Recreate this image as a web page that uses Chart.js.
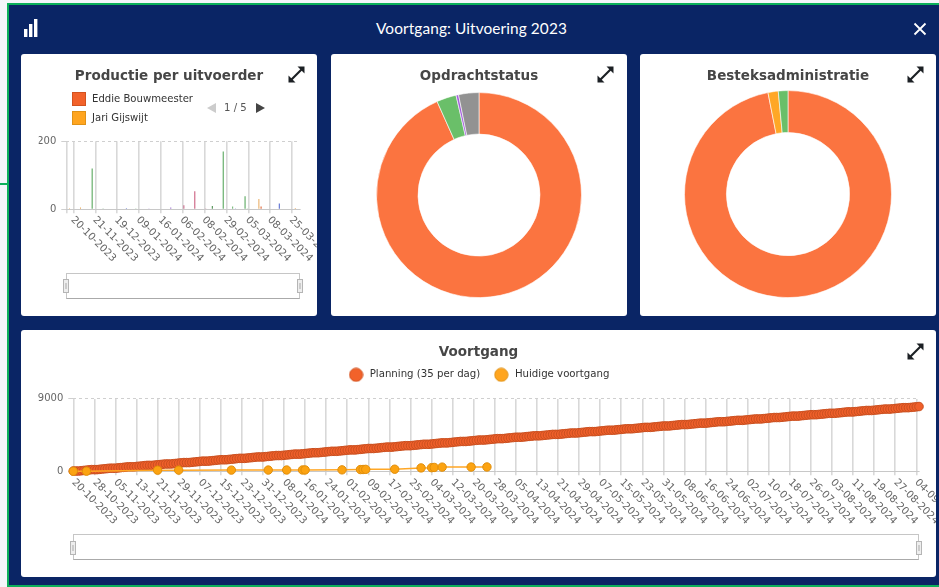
<!DOCTYPE html>
<html><head><meta charset="utf-8">
<script src="https://cdn.jsdelivr.net/npm/chart.js@4"></script>
<style>
html,body{margin:0;padding:0;background:#f4f6fa;overflow:hidden}
body{width:939px;height:587px;position:relative;font-family:"DejaVu Sans",sans-serif}
.abs{position:absolute}
.frame{left:7px;top:3px;width:940px;height:584px;background:#0a2565;border:2px solid #0bb05a;border-right:none;box-sizing:border-box}
.card{position:absolute;background:#fff;border-radius:3px;overflow:hidden}
.card canvas{position:absolute;left:0;top:0}
.head{left:376px;top:19px;font:15.4px Lato,"Open Sans",sans-serif;color:#fff;white-space:nowrap;letter-spacing:.1px}
.slider{position:absolute;border:1px solid #c6c6c6;border-bottom-color:#aaa;box-sizing:border-box;background:#fff}
.handle{position:absolute;width:6px;height:14px;background:#eee;border:1px solid #b5b5b5;box-sizing:border-box}
.handle:after{content:"";position:absolute;left:1px;top:3px;width:2px;height:6px;background:#ccc}
.lg{position:absolute;font-size:10.1px;color:#333;white-space:nowrap;line-height:14px}
.sw{position:absolute;width:14px;height:14px;box-sizing:border-box;border:1px solid}
</style></head><body>
<div class="abs" style="left:0;top:183px;width:8px;height:1.5px;background:#0bb05a"></div>
<div class="abs frame"></div>
<svg class="abs" style="left:24px;top:19px" width="14" height="19"><rect x="0" y="10" width="3.4" height="8" fill="#fff"/><rect x="5" y="5" width="3.4" height="13" fill="#fff"/><rect x="10" y="0" width="3.4" height="18" fill="#fff"/></svg>
<div class="abs head">Voortgang: Uitvoering 2023</div>
<svg class="abs" style="left:913px;top:22px" width="14" height="14"><path d="M1.5 1.5L12.5 12.5M12.5 1.5L1.5 12.5" stroke="#fff" stroke-width="1.8"/></svg>

<div class="card" id="c1" style="left:21px;top:54px;width:296px;height:262px"><canvas id="productie" width="296" height="262"></canvas></div>
<div class="card" id="c2" style="left:331px;top:54px;width:296px;height:262px"><canvas id="opdracht" width="296" height="262"></canvas></div>
<div class="card" id="c3" style="left:640px;top:54px;width:296px;height:262px"><canvas id="bestek" width="296" height="262"></canvas></div>
<div class="card" id="c4" style="left:21px;top:330px;width:915px;height:247px"><canvas id="voortgang" width="915" height="247"></canvas></div>

<script>
// ---------- data ----------
const _ = null;
const productieTicks = ['20-10-2023','21-11-2023','19-12-2023','09-01-2024','16-01-2024','06-02-2024','08-02-2024','29-02-2024','05-03-2024','08-03-2024','25-03-2024'];
const productieNamen = ['Eddie Bouwmeester','Jari Gijswijt'];
//                 0 1 2 3   4 5 6 7 8 9 10 11 12 13 14 15 16 17 18 19 20 21 22 23 24 25 26 27 28 29 30 31
const serieA = [_,_,_,_,_,1,_,_,_,_,_,_,_,_,_,_,_,_,_,_,10,_,_,_,_,_,_,_,_,_,_,_];
const serieB = [_,_,_,_,_,_,_,_,_,_,_,_,_,_,_,_,12,_,_,2,_,_,_,_,_,_,_,_,_,_,_,_];
const serieC = [_,_,_,_,_,_,_,_,3,_,_,_,_,_,_,_,_,_,_,_,_,_,_,2,_,_,_,_,_,17,_,_];
const serieD = [_,_,_,_,_,_,_,_,_,_,_,2,_,_,5,_,_,_,_,_,_,_,_,_,_,_,_,_,_,_,_,_];
const jari   = [3,_,_,_,_,_,_,_,_,_,_,_,_,_,_,_,_,_,_,_,_,_,_,_,_,_,30,_,_,_,_,4];
const serieF = [_,_,_,120,_,_,_,_,_,2,_,_,_,_,_,_,_,_,_,_,_,170,_,_,38,_,_,_,_,_,_,_];
const serieG = [_,_,_,_,_,_,_,_,_,_,_,_,_,_,_,_,_,53,_,_,_,_,_,_,_,_,_,_,_,_,_,_];
const eddie  = [_,_,_,_,_,_,_,_,_,_,_,_,_,_,_,_,_,_,_,_,_,_,_,_,_,_,8,_,_,_,_,_];
const serieI = [_,_,_,_,_,_,_,_,_,_,_,_,_,_,_,_,_,_,_,_,_,_,8,_,2,_,_,_,_,_,_,_];
const serieJ = [_,5,_,_,_,_,_,_,_,_,_,_,_,_,_,_,_,_,_,_,_,_,_,_,_,_,_,_,_,_,_,_];

const opdrachtLabels = ['Uitgevoerd','In uitvoering','Gepland','Overig'];
const opdrachtWaarden = [93.3,3.1,0.4,3.2];
const bestekLabels = ['Afgehandeld','In behandeling','Gereed'];
const bestekWaarden = [96.9,1.6,1.5];

const voortgangTicks = ['20-10-2023','28-10-2023','05-11-2023','13-11-2023','21-11-2023','29-11-2023','07-12-2023','15-12-2023','23-12-2023','31-12-2023','08-01-2024','16-01-2024','24-01-2024','01-02-2024','09-02-2024','17-02-2024','25-02-2024','04-03-2024','12-03-2024','20-03-2024','28-03-2024','05-04-2024','13-04-2024','21-04-2024','29-04-2024','07-05-2024','15-05-2024','23-05-2024','31-05-2024','08-06-2024','16-06-2024','24-06-2024','02-07-2024','10-07-2024','18-07-2024','26-07-2024','03-08-2024','11-08-2024','19-08-2024','27-08-2024','04-09-2024'];
const planning = [
35,35,35,70,105,140,175,
210,210,210,245,280,315,350,
385,385,385,420,455,490,525,
560,560,560,595,630,665,700,
735,735,735,770,805,840,875,
910,910,910,945,980,1015,1050,
1085,1085,1085,1120,1155,1190,1225,
1260,1260,1260,1295,1330,1365,1400,
1435,1435,1435,1470,1505,1540,1575,
1610,1610,1610,1645,1680,1715,1750,
1785,1785,1785,1820,1855,1890,1925,
1960,1960,1960,1995,2030,2065,2100,
2135,2135,2135,2170,2205,2240,2275,
2310,2310,2310,2345,2380,2415,2450,
2485,2485,2485,2520,2555,2590,2625,
2660,2660,2660,2695,2730,2765,2800,
2835,2835,2835,2870,2905,2940,2975,
3010,3010,3010,3045,3080,3115,3150,
3185,3185,3185,3220,3255,3290,3325,
3360,3360,3360,3395,3430,3465,3500,
3535,3535,3535,3570,3605,3640,3675,
3710,3710,3710,3745,3780,3815,3850,
3885,3885,3885,3920,3955,3990,4025,
4060,4060,4060,4095,4130,4165,4200,
4235,4235,4235,4270,4305,4340,4375,
4410,4410,4410,4445,4480,4515,4550,
4585,4585,4585,4620,4655,4690,4725,
4760,4760,4760,4795,4830,4865,4900,
4935,4935,4935,4970,5005,5040,5075,
5110,5110,5110,5145,5180,5215,5250,
5285,5285,5285,5320,5355,5390,5425,
5460,5460,5460,5495,5530,5565,5600,
5635,5635,5635,5670,5705,5740,5775,
5810,5810,5810,5845,5880,5915,5950,
5985,5985,5985,6020,6055,6090,6125,
6160,6160,6160,6195,6230,6265,6300,
6335,6335,6335,6370,6405,6440,6475,
6510,6510,6510,6545,6580,6615,6650,
6685,6685,6685,6720,6755,6790,6825,
6860,6860,6860,6895,6930,6965,7000,
7035,7035,7035,7070,7105,7140,7175,
7210,7210,7210,7245,7280,7315,7350,
7385,7385,7385,7420,7455,7490,7525,
7560,7560,7560,7595,7630,7665,7700,
7735,7735,7735,7770,7805,7840,7875,
7910,7910,7910,7945,7980,8015,8050];
const voortgangDatums = ['20-10-2023','25-10-2023','21-11-2023','29-11-2023','19-12-2023','02-01-2024','09-01-2024','15-01-2024','16-01-2024','30-01-2024','06-02-2024','07-02-2024','08-02-2024','19-02-2024','29-02-2024','04-03-2024','05-03-2024','08-03-2024','19-03-2024','25-03-2024'];
const voortgangWaarden = [10,15,140,145,150,155,160,165,170,180,215,225,240,260,420,450,480,520,530,540];

// ---------- helpers ----------
const FONT = '"DejaVu Sans", sans-serif';
Chart.defaults.font.family = FONT;
Chart.defaults.font.size = 10;
Chart.defaults.color = '#666';
Chart.defaults.animation = false;
Chart.defaults.responsive = false;

const titel = (text, top, bottom) => ({display:true,text,color:'#464646',font:{size:13.5,weight:'bold',family:FONT},padding:{top,bottom}});

// diagonal (descending to the right) tick labels
const diagonaal = (labels, step, dx, dy) => ({
  id:'diagonaal',
  afterDraw(chart){
    const {ctx, scales:{x}, chartArea} = chart;
    ctx.save();
    ctx.font = '10.2px '+FONT;
    ctx.fillStyle = '#666';
    ctx.textAlign = 'left';
    ctx.textBaseline = 'middle';
    labels.forEach((t,i)=>{
      ctx.save();
      ctx.translate(x.getPixelForTick(i*step)+dx, chartArea.bottom+dy);
      ctx.rotate(Math.PI/4);
      ctx.fillText(t,0,0);
      ctx.restore();
    });
    ctx.restore();
  }
});

// ---------- Productie per uitvoerder ----------
const maanden = Array.from({length:32},(_,i)=> i%3===0 ? productieTicks[i/3] : '·'.repeat(i+1));
const staaf = (label,data,color)=>({label,data,backgroundColor:color,categoryPercentage:1,barPercentage:1.3});
new Chart(document.getElementById('productie'),{
  type:'bar',
  data:{labels:maanden,datasets:[
    staaf('Uitvoerder 3',serieA,'#2e7d32'),
    staaf('Uitvoerder 4',serieB,'#c2557a'),
    staaf('Uitvoerder 5',serieC,'#3d55c9'),
    staaf('Uitvoerder 6',serieD,'#8e5bc9'),
    staaf(productieNamen[1],jari,'#e8a552'),
    staaf('Uitvoerder 7',serieF,'#3f9a45'),
    staaf('Uitvoerder 8',serieG,'#c2456b'),
    staaf(productieNamen[0],eddie,'#d9480f'),
    staaf('Uitvoerder 9',serieI,'#5fae63'),
    staaf('Uitvoerder 10',serieJ,'#e8a552')
  ]},
  options:{
    layout:{padding:{left:17.7,right:17.7}},
    plugins:{legend:{display:false},tooltip:{enabled:false},title:titel('Productie per uitvoerder',14,57)},
    scales:{
      x:{offset:true,afterFit:s=>{s.height=106.7},
         ticks:{display:false,autoSkip:false},
         border:{color:'#c8c8c8'},
         grid:{offset:true,lineWidth:1.6,tickLength:4,
               color:c=>(c.index===0||c.index%3===1)?'#d8d8d8':'rgba(0,0,0,0)'}},
      y:{min:0,max:200,afterFit:s=>{s.width=27.6},
         ticks:{stepSize:200,padding:5,font:{size:10},callback:v=>String(v)},
         border:{display:false,dash:[3,3]},
         grid:{color:'#cfcfcf',tickLength:5}}
    }
  },
  plugins:[diagonaal(productieTicks,3,2.5,9)]
});

// ---------- Doughnuts ----------
const donut = (id,title,labels,data,colors,radius,top,bottom)=>new Chart(document.getElementById(id),{
  type:'doughnut',
  data:{labels,datasets:[{data,backgroundColor:colors,borderColor:'#fff',borderWidth:.6,radius,cutout:'59.5%'}]},
  options:{
    layout:{padding:{bottom}},
    plugins:{legend:{display:false},tooltip:{enabled:false},title:titel(title,14,top)}
  }
});
donut('opdracht','Opdrachtstatus',opdrachtLabels,opdrachtWaarden,['#fb7440','#6abf69','#a45fdc','#929292'],102.5,4,14);
donut('bestek','Besteksadministratie',bestekLabels,bestekWaarden,['#fb7440','#ffa726','#6abf69'],103.5,2,14);

// ---------- Voortgang ----------
const dagen = planning.map((_,i)=>{
  const d = new Date(Date.UTC(2023,9,20+i));
  return String(d.getUTCDate()).padStart(2,'0')+'-'+String(d.getUTCMonth()+1).padStart(2,'0')+'-'+d.getUTCFullYear();
});
const legendaRuimte = {
  id:'legendaRuimte',
  beforeInit(chart){
    const fit = chart.legend.fit;
    chart.legend.fit = function(){ fit.call(this); this.height += 9; };
  }
};
// round legend discs as images, so a wide legend box does not stretch them
const schijf = (fill,stroke)=>{
  const c = document.createElement('canvas'); c.width = c.height = 15;
  const x = c.getContext('2d');
  x.beginPath(); x.arc(7.5,7.5,6.6,0,Math.PI*2);
  x.fillStyle = fill; x.fill(); x.strokeStyle = stroke; x.lineWidth = 1; x.stroke();
  return c;
};
const schijven = [schijf('#f2622a','#d2521f'),schijf('#ffa51f','#e09216')];
new Chart(document.getElementById('voortgang'),{
  type:'line',
  data:{labels:dagen,datasets:[
    {label:'Planning (35 per dag)',data:planning,borderColor:'#d9552a',backgroundColor:'#f26228',borderWidth:1.5,
     pointBackgroundColor:'#ef5f2a',pointBorderColor:'#c94f1f',pointBorderWidth:1,pointRadius:4.3,clip:false,order:2},
    {label:'Huidige voortgang',data:voortgangDatums.map((x,i)=>({x,y:voortgangWaarden[i]})),borderColor:'#ffa726',backgroundColor:'#ffa51f',borderWidth:1.5,
     pointBackgroundColor:'#fca311',pointBorderColor:'#e08e0b',pointBorderWidth:1,pointRadius:4.2,clip:false,order:1}
  ]},
  options:{
    layout:{padding:{left:17,right:17}},
    plugins:{tooltip:{enabled:false},title:titel('Voortgang',14,-3),
      legend:{labels:{usePointStyle:true,pointStyleWidth:17,boxHeight:9.4,padding:12.5,color:'#333',font:{size:10.2},
        generateLabels:c=>Chart.defaults.plugins.legend.labels.generateLabels(c).map(it=>({...it,pointStyle:schijven[it.datasetIndex]})),
        sort:(a,b)=>a.datasetIndex-b.datasetIndex}}},
    scales:{
      x:{afterFit:s=>{s.height=105.7},
         ticks:{display:false,autoSkip:false},
         border:{color:'#c8c8c8'},
         grid:{lineWidth:1.6,tickLength:4,color:c=>c.index%8===0?'#d8d8d8':'rgba(0,0,0,0)'}},
      y:{min:0,max:9000,afterFit:s=>{s.width=35.3},
         ticks:{stepSize:9000,padding:5,font:{size:10},callback:v=>String(v)},
         border:{display:false,dash:[3,3]},
         grid:{color:'#cfcfcf',tickLength:5}}
    }
  },
  plugins:[legendaRuimte,diagonaal(voortgangTicks,8,0,9.5)]
});

// ---------- Legend and slider furniture ----------
const c1 = document.getElementById('c1'), c4 = document.getElementById('c4');
[[0,'#f2622a','#d2521f',37.7],[1,'#ffa51f','#e09216',57]].forEach(([i,f,b,y])=>{
  c1.insertAdjacentHTML('beforeend',`<div class="sw" style="left:51px;top:${y}px;background:${f};border-color:${b}"></div><div class="lg" style="left:71px;top:${y}px">${productieNamen[i]}</div>`);
});
c1.insertAdjacentHTML('beforeend',`<svg style="position:absolute;left:185px;top:48px" width="11" height="12"><path d="M10 1V11L1 6Z" fill="#ccc"/></svg>
<div class="lg" style="left:203px;top:47px;color:#555">1 / 5</div>
<svg style="position:absolute;left:234px;top:48px" width="11" height="12"><path d="M1 1V11L10 6Z" fill="#444"/></svg>`);
const slider = (host,l,t,w,h)=>{host.insertAdjacentHTML('beforeend',`<div class="slider" style="left:${l}px;top:${t}px;width:${w}px;height:${h}px"></div><div class="handle" style="left:${l-3}px;top:${t+6.5}px"></div><div class="handle" style="left:${l+w-3}px;top:${t+6.5}px"></div>`)};
slider(c1,45,218.5,233.5,26);
slider(c4,52,204,846,26);
const pijl = (id,l,t)=>document.getElementById(id).insertAdjacentHTML('beforeend',`<svg style="position:absolute;left:${l}px;top:${t}px" width="17" height="17"><path d="M3.5 13.5L13.5 3.5" stroke="#1c2024" stroke-width="2.2"/><path d="M16.5 .5V7.5L9.5 .5Z" fill="#1c2024"/><path d="M.5 16.5V9.5L7.5 16.5Z" fill="#1c2024"/></svg>`);
pijl('c1',267,12);pijl('c2',266,12);pijl('c3',267,12);pijl('c4',886,13);
</script>
</body></html>
